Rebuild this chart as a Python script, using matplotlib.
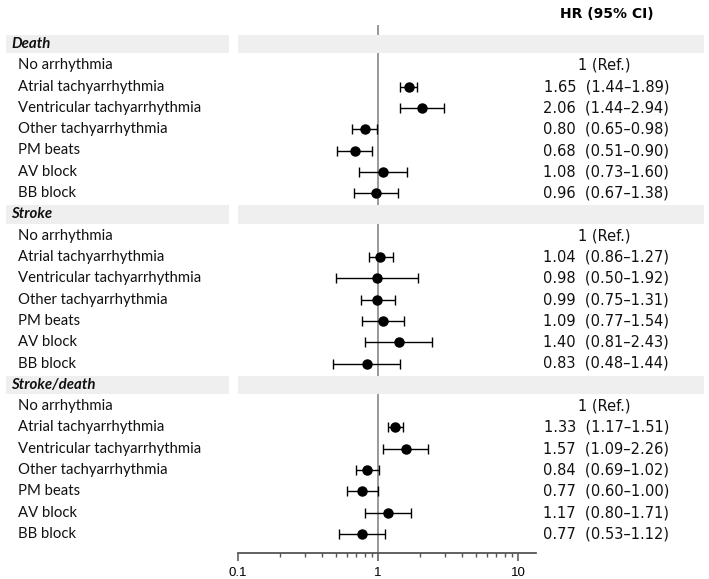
import matplotlib
matplotlib.use("Agg")
import matplotlib.pyplot as plt
from matplotlib.patches import Rectangle
from matplotlib.ticker import LogLocator, NullFormatter, FixedLocator, FixedFormatter
import matplotlib.transforms as mtransforms

# ---- data ------------------------------------------------------------------
groups = ["Death", "Stroke", "Stroke/death"]
rows = ["No arrhythmia", "Atrial tachyarrhythmia", "Ventricular tachyarrhythmia",
        "Other tachyarrhythmia", "PM beats", "AV block", "BB block"]

death_hr = [None, 1.65, 2.06, 0.80, 0.68, 1.08, 0.96]
death_lo = [None, 1.44, 1.44, 0.65, 0.51, 0.73, 0.67]
death_hi = [None, 1.89, 2.94, 0.98, 0.90, 1.60, 1.38]

stroke_hr = [None, 1.04, 0.98, 0.99, 1.09, 1.40, 0.83]
stroke_lo = [None, 0.86, 0.50, 0.75, 0.77, 0.81, 0.48]
stroke_hi = [None, 1.27, 1.92, 1.31, 1.54, 2.43, 1.44]

sd_hr = [None, 1.33, 1.57, 0.84, 0.77, 1.17, 0.77]
sd_lo = [None, 1.17, 1.09, 0.69, 0.60, 0.80, 0.53]
sd_hi = [None, 1.51, 2.26, 1.02, 1.00, 1.71, 1.12]

series = [(death_hr, death_lo, death_hi),
          (stroke_hr, stroke_lo, stroke_hi),
          (sd_hr, sd_lo, sd_hi)]

W, H = 709, 579
fig = plt.figure(figsize=(W / 100, H / 100), dpi=100)

# forest axes: x pixels 238..536, y pixels 25..553
ax = fig.add_axes([238 / W, 1 - 553 / H, (536 - 238) / W, (553 - 25) / H])
ax.set_xscale("log")
ax.set_xlim(0.1, 13.4)
row_h = 21.3
ax.set_ylim((553 - 44) / row_h, (25 - 44) / row_h)
ax.patch.set_alpha(0)

for s in ["top", "right", "left"]:
    ax.spines[s].set_visible(False)
ax.spines["bottom"].set_color("#555555")
ax.spines["bottom"].set_linewidth(1.3)
ax.set_yticks([])
ax.xaxis.set_major_locator(FixedLocator([0.1, 1, 10]))
ax.xaxis.set_major_formatter(FixedFormatter(["0.1", "1", "10"]))
ax.xaxis.set_minor_locator(LogLocator(base=10, subs=range(2, 10)))
ax.xaxis.set_minor_formatter(NullFormatter())
ax.tick_params(axis="x", which="major", direction="out", length=6, width=1.1,
               color="#555555", labelsize=9.5, pad=4)
ax.tick_params(axis="x", which="minor", direction="out", length=3, width=1.0,
               color="#555555")
for lab in ax.get_xticklabels():
    lab.set_family("Liberation Sans")

ax.axvline(1, color="#999999", lw=1.4, zorder=2)

trans = mtransforms.blended_transform_factory(fig.transFigure, ax.transData)

y = 0
for g, (hr, lo, hi) in zip(groups, series):
    # grey header band
    for x0, x1 in [(6, 229), (238, 704)]:
        fig.patches.append(Rectangle((x0 / W, y - 0.43), (x1 - x0) / W, 0.86,
                                     transform=trans, facecolor="#efefef",
                                     edgecolor="none", zorder=0))
    fig.text(11 / W, y, g, transform=trans, fontsize=10.8, fontweight="bold",
             fontstyle="italic", va="center", ha="left", family="Lato",
             color="#111111")
    y += 1
    for name, h, l, u in zip(rows, hr, lo, hi):
        fig.text(18 / W, y, name, transform=trans, fontsize=10.7, va="center",
                 ha="left", family="Lato", color="#111111")
        if h is None:
            fig.text(604 / W, y, "1 (Ref.)", transform=trans, fontsize=10.5,
                     va="center", ha="center", color="#111111")
        else:
            ax.errorbar([h], [y], xerr=[[h - l], [u - h]], fmt="o", color="black",
                        ms=6.5, elinewidth=1.0, capsize=3.5, capthick=1.0, zorder=3)
            fig.text(669 / W, y, f"{h:.2f}  ({l:.2f}\u2013{u:.2f})", transform=trans,
                     fontsize=10.5, va="center", ha="right", color="#111111")
        y += 1

fig.text(607 / W, 1 - 14 / H, "HR (95% CI)", fontsize=10, fontweight="bold",
         ha="center", va="center")

fig.savefig("out.png", dpi=100)
